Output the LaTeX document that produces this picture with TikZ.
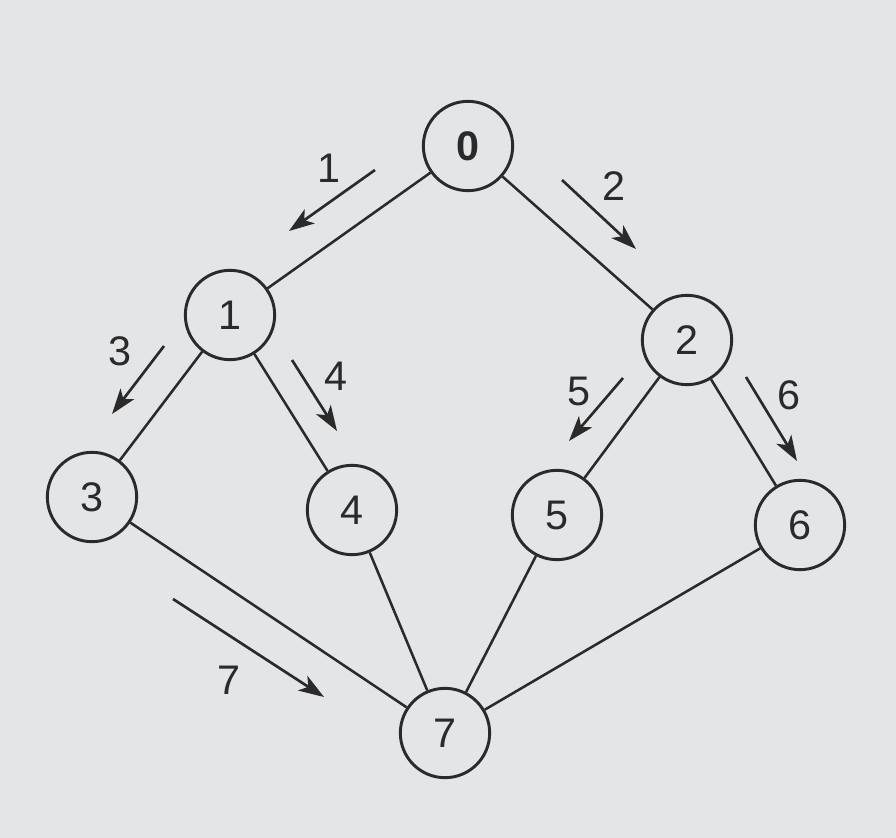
\documentclass[tikz,border=0pt]{standalone}
\usepackage{fontspec}
\setmainfont{Liberation Sans}
\usetikzlibrary{arrows.meta}
\definecolor{bg}{HTML}{E4E5E7}
\definecolor{ink}{HTML}{2A2A2A}
\begin{document}
\begin{tikzpicture}[x=0.75pt,y=-0.75pt,
  vert/.style={circle,draw=ink,line width=2.2pt,minimum size=67pt,inner sep=0pt,font=\fontsize{31}{31}\selectfont,text=ink},
  edge/.style={draw=ink,line width=1.9pt},
  flow/.style={draw=ink,line width=2pt,-{Stealth[length=19pt,width=13pt,inset=5pt]}},
  lab/.style={font=\fontsize{31}{31}\selectfont,text=ink}]
\fill[bg] (0,0) rectangle (896,838);
\useasboundingbox (0,0) rectangle (896,838);
\node[vert,font=\fontsize{31}{31}\selectfont\bfseries] (n0) at (468,146) {0};
\node[vert] (n1) at (230,315) {1};
\node[vert] (n2) at (687,340) {2};
\node[vert] (n3) at (92,497) {3};
\node[vert] (n4) at (352,510) {4};
\node[vert] (n5) at (557,515) {5};
\node[vert] (n6) at (800,525) {6};
\node[vert] (n7) at (445,733) {7};
\draw[edge] (n0) -- (n1);
\draw[edge] (n0) -- (n2);
\draw[edge] (n1) -- (n3);
\draw[edge] (n1) -- (n4);
\draw[edge] (n2) -- (n5);
\draw[edge] (n2) -- (n6);
\draw[edge] (n3) -- (n7);
\draw[edge] (n4) -- (n7);
\draw[edge] (n5) -- (n7);
\draw[edge] (n6) -- (n7);
\coordinate (a1s) at (375,170); \coordinate (a1e) at (289,231);
\coordinate (a2s) at (562,180); \coordinate (a2e) at (636,249);
\coordinate (a3s) at (164,346); \coordinate (a3e) at (112,414);
\coordinate (a4s) at (292,360); \coordinate (a4e) at (337,431);
\coordinate (a5s) at (623,378); \coordinate (a5e) at (569,441);
\coordinate (a6s) at (746,377); \coordinate (a6e) at (797,461);
\coordinate (a7s) at (173,599); \coordinate (a7e) at (324,697);
\draw[flow] (a1s) -- (a1e);
\draw[flow] (a2s) -- (a2e);
\draw[flow] (a3s) -- (a3e);
\draw[flow] (a4s) -- (a4e);
\draw[flow] (a5s) -- (a5e);
\draw[flow] (a6s) -- (a6e);
\draw[flow] (a7s) -- (a7e);
\node[lab] (l1) at (329,168) {1};
\node[lab] (l2) at (614,186) {2};
\node[lab] (l3) at (120,351) {3};
\node[lab] (l4) at (336,376) {4};
\node[lab] (l5) at (579,391) {5};
\node[lab] (l6) at (789,395) {6};
\node[lab] (l7) at (229,680) {7};
\end{tikzpicture}
\end{document}
